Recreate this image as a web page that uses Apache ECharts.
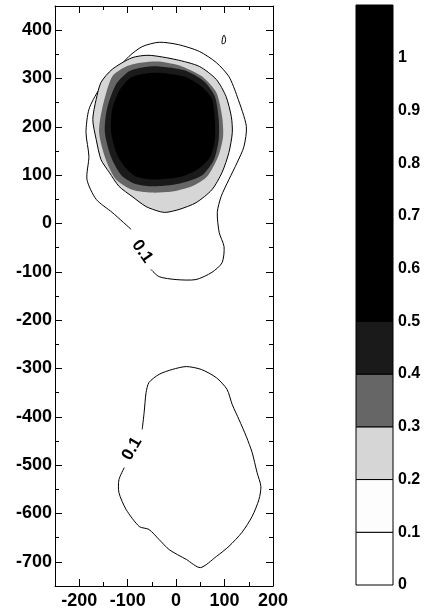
<!DOCTYPE html>
<html>
<head>
<meta charset="utf-8">
<script src="https://cdn.jsdelivr.net/npm/echarts@6/dist/echarts.min.js"></script>
<style>
    html, body { margin: 0; padding: 0; background: #fff; }
    #main { width: 433px; height: 616px; }
</style>
</head>
<body>
<div id="main"></div>
<script>
// contour outlines, in data units [x, y]
var topBlob01 = [[-93, -12], [-132, 23], [-165, 50], [-184, 91], [-180, 139], [-186, 188], [-180, 236], [-159, 277],
    [-128, 312], [-97, 346], [-70, 366], [-35, 375], [5, 370], [48, 356], [83, 333], [109, 304], [126, 263],
    [145, 201], [140, 159], [126, 126], [109, 91], [93, 56], [85, 23], [89, -19], [99, -48], [95, -81],
    [74, -101], [41, -116], [0, -116], [-35, -110], [-52, -95]];
var topBlob02 = [[-91, 343], [-56, 348], [0, 339], [48, 325], [83, 298], [103, 263], [114, 221], [116, 188],
    [109, 147], [95, 106], [74, 70], [41, 43], [6, 29], [-21, 23], [-35, 25], [-62, 35], [-91, 56], [-118, 77],
    [-138, 106], [-155, 132], [-165, 174], [-172, 215], [-165, 257], [-155, 292], [-132, 319]];
var topBlob03 = [[-103, 325], [-70, 333], [-35, 335], [12, 325], [54, 304], [83, 271], [95, 221], [97, 180],
    [87, 139], [64, 97], [33, 77], [-8, 66], [-50, 64], [-91, 70], [-124, 91], [-145, 132], [-159, 188],
    [-153, 236], [-132, 304]];
var topBlob04 = [[-35, 325], [17, 317], [58, 294], [80, 263], [88, 215], [88, 174], [78, 132], [55, 101],
    [23, 87], [-14, 79], [-52, 77], [-87, 83], [-114, 101], [-134, 137], [-147, 188], [-143, 236],
    [-124, 288], [-97, 315], [-70, 323]];
var topBlob05 = [[-35, 312], [17, 304], [52, 284], [74, 257], [80, 215], [80, 174], [70, 137], [45, 112],
    [17, 99], [-14, 93], [-52, 91], [-83, 97], [-105, 116], [-122, 143], [-134, 188], [-132, 236],
    [-116, 277], [-93, 302], [-66, 310]];
var smallLoop = [[95, 372], [101, 374], [102, 382], [99, 390], [96, 384]];
var lowBlob01 = [[-70, -426], [-66, -391], [-62, -350], [-56, -329], [-35, -312], [-8, -302], [21, -296],
    [52, -302], [83, -319], [105, -343], [116, -375], [130, -406], [145, -441], [157, -474], [167, -515],
    [175, -544], [171, -571], [157, -606], [136, -639], [109, -668], [83, -689], [50, -712], [21, -695],
    [-14, -675], [-35, -654], [-56, -633], [-76, -627], [-103, -592], [-118, -557], [-118, -530], [-107, -505]];

// contour labels
var labelText = ['0.1', '0.1'];
var labelX = [-70, -91];
var labelY = [-58, -466];
var labelAngle = [-55, 60];

// colour scale bands
var bandLo = [0, 0.1, 0.2, 0.3, 0.4, 0.5];
var bandHi = [0.1, 0.2, 0.3, 0.4, 0.5, 1.1];
var bandColors = ['#ffffff', '#fdfdfd', '#d6d6d6', '#666666', '#1a1a1a', '#000000'];

var FONT = 'Liberation Sans';

function contourSeries(pts, fill, closedLine, openLine) {
    return {
        type: 'custom',
        xAxisIndex: 0,
        yAxisIndex: 0,
        silent: true,
        data: [[0, 0]],
        renderItem: function (params, api) {
            var p = pts.map(function (d) { return api.coord(d); });
            var children = [];
            if (fill) {
                children.push({type: 'polygon', shape: {points: p, smooth: 0.25},
                    style: {fill: fill, stroke: closedLine ? '#000' : null, lineWidth: 1}});
            }
            if (openLine) {
                children.push({type: 'polyline', shape: {points: p, smooth: 0.25},
                    style: {fill: null, stroke: '#000', lineWidth: 1}});
            }
            return {type: 'group', children: children};
        }
    };
}

var labelSeries = {
    type: 'custom',
    xAxisIndex: 0,
    yAxisIndex: 0,
    silent: true,
    data: labelX.map(function (x, i) { return [x, labelY[i]]; }),
    renderItem: function (params, api) {
        var i = params.dataIndex;
        var c = api.coord([labelX[i], labelY[i]]);
        return {
            type: 'text',
            x: c[0],
            y: c[1],
            rotation: labelAngle[i] * Math.PI / 180,
            style: {text: labelText[i], fontSize: 17, fontWeight: 'bold', fontFamily: FONT,
                align: 'center', verticalAlign: 'middle', fill: '#000'}
        };
    }
};

var colorbarSeries = {
    type: 'custom',
    xAxisIndex: 2,
    yAxisIndex: 2,
    silent: true,
    data: bandLo.map(function (v) { return [0.5, v]; }),
    renderItem: function (params, api) {
        var i = params.dataIndex;
        var a = api.coord([0, bandLo[i]]);
        var b = api.coord([1, bandHi[i]]);
        return {
            type: 'rect',
            shape: {x: a[0], y: b[1], width: b[0] - a[0], height: a[1] - b[1]},
            style: {fill: bandColors[i], stroke: '#000', lineWidth: 1}
        };
    }
};

var tickLabel = {color: '#000', fontSize: 18, fontWeight: 'bold', fontFamily: FONT};

function frameAxis(grid, pos, min, max, labels) {
    return {
        gridIndex: grid,
        type: 'value',
        position: pos,
        min: min,
        max: max,
        minInterval: 100,
        maxInterval: 100,
        axisLine: {show: true, onZero: false, lineStyle: {color: '#000', width: 1}},
        axisTick: {show: true, inside: true, length: 7, lineStyle: {color: '#000', width: 1}},
        minorTick: {show: true, splitNumber: 2, length: 4, lineStyle: {color: '#000', width: 1}},
        splitLine: {show: false},
        axisLabel: labels ? Object.assign({showMinLabel: false, showMaxLabel: pos === 'bottom',
            margin: pos === 'bottom' ? 6 : 3}, tickLabel) : {show: false}
    };
}

var dom = document.getElementById('main');
var chart = echarts.init(dom, null, {renderer: 'canvas'});

var option = {
    animation: false,
    backgroundColor: '#fff',
    grid: [
        {left: 55, right: 160, top: 6, bottom: 30},
        {left: 356, width: 37, top: 5, bottom: 31}
    ],
    xAxis: [
        frameAxis(0, 'bottom', -250, 200, true),
        frameAxis(0, 'top', -250, 200, false),
        {gridIndex: 1, type: 'value', min: 0, max: 1, show: false}
    ],
    yAxis: [
        frameAxis(0, 'left', -750, 450, true),
        frameAxis(0, 'right', -750, 450, false),
        {
            gridIndex: 1, type: 'value', position: 'right', min: 0, max: 1.1,
            minInterval: 0.1, maxInterval: 0.1,
            axisLine: {show: false}, axisTick: {show: false}, splitLine: {show: false},
            axisLabel: {showMaxLabel: false, margin: 5, color: '#000', fontSize: 16,
                fontWeight: 'bold', fontFamily: FONT}
        }
    ],
    series: [
        contourSeries(topBlob01, '#ffffff', false, true),
        contourSeries(lowBlob01, '#ffffff', false, true),
        contourSeries(smallLoop, '#ffffff', true, false),
        contourSeries(topBlob02, bandColors[2], true, false),
        contourSeries(topBlob03, bandColors[3], false, false),
        contourSeries(topBlob04, bandColors[4], false, false),
        contourSeries(topBlob05, bandColors[5], false, false),
        labelSeries,
        colorbarSeries
    ]
};

chart.setOption(option);
</script>
</body>
</html>
